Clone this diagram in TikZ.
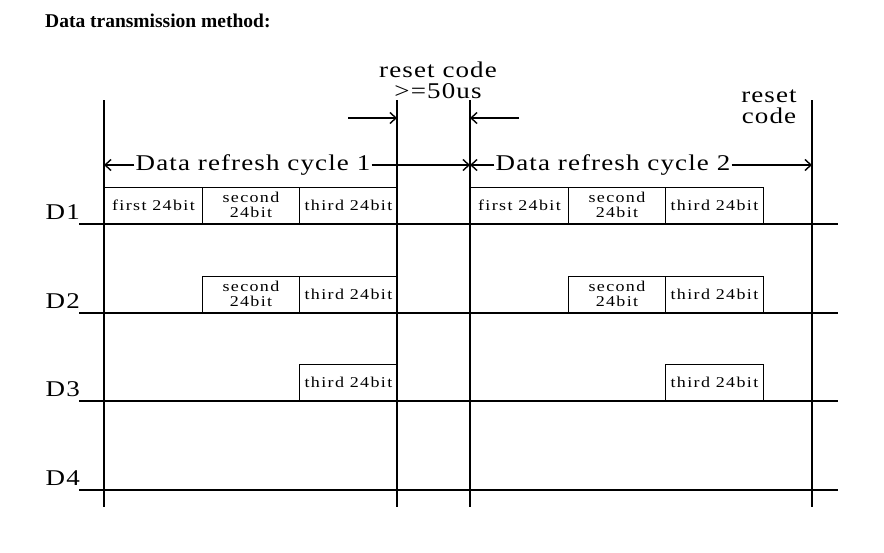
\documentclass[tikz,border=0pt]{standalone}
\usepackage{fontspec}
\setmainfont{Liberation Serif}
\newfontfamily\widefont[FakeStretch=1.2,LetterSpace=5]{Liberation Serif}
\newfontfamily\bitfont[FakeStretch=1.2,LetterSpace=9]{Liberation Serif}
\usetikzlibrary{positioning,arrows.meta}
\begin{document}
\begin{tikzpicture}[x=1pt,y=-1pt,
  bigtext/.style={font=\widefont\fontsize{22.5}{20.5}\selectfont,inner sep=1pt},
  bitbox/.style={draw,line width=1.4pt,minimum width=97.5pt,minimum height=36pt,
    inner sep=0pt,anchor=south west,align=center,
    font=\bitfont\fontsize{15}{15}\selectfont},
  lane/.style={line width=1.2pt},
  border/.style={line width=1.6pt},
  arr/.style={-{Straight Barb[length=6pt,width=11pt]},line width=1.4pt}]
\useasboundingbox (0,0) rectangle (884,552);
\node[anchor=base west,font=\bfseries\fontsize{19.5}{19.5}\selectfont,inner sep=0pt] (title) at (45,27) {Data transmission method:};
% lanes
\foreach \n/\y in {1/224,2/313,3/401,4/490}{
  \node[bigtext,anchor=base east] (d\n) at (81,\y-5) {D\n};
  \draw[lane] (79,\y) -- (838,\y);
}
% cycle borders
\foreach \c/\x in {a/104,b/397,c/470,d/812}{
  \coordinate (top\c) at (\x,100);
  \coordinate (bot\c) at (\x,507);
  \draw[border] (top\c) -- (bot\c);
}
% reset codes
\node[bigtext,align=center,anchor=base] (reset1) at (438,98) {reset code\\>=50us};
\node[bigtext,align=center,anchor=base] (reset2) at (769,123) {reset\\code};
\coordinate (r1) at (348,118);
\coordinate (r2) at (519,118);
\draw[arr] (r1) -- (397,118);
\draw[arr] (r2) -- (470,118);
% refresh cycles
\node[bigtext] (cyc1) at (253,165) {Data refresh cycle 1};
\node[bigtext] (cyc2) at (613,165) {Data refresh cycle 2};
\draw[arr] (cyc1.west) -- (104,165);
\draw[arr] (cyc1.east) -- (470,165);
\draw[arr] (cyc2.west) -- (470,165);
\draw[arr] (cyc2.east) -- (812,165);
% data frames
\foreach \o/\k in {0/a,366/b}{
  \node[bitbox] (f1\k) at (104+\o,224) {first 24bit};
  \node[bitbox] (s1\k) at (201.5+\o,224) {second\\24bit};
  \node[bitbox] (t1\k) at (299+\o,224) {third 24bit};
  \node[bitbox] (s2\k) at (201.5+\o,313) {second\\24bit};
  \node[bitbox] (t2\k) at (299+\o,313) {third 24bit};
  \node[bitbox] (t3\k) at (299+\o,401) {third 24bit};
}
\end{tikzpicture}
\end{document}
